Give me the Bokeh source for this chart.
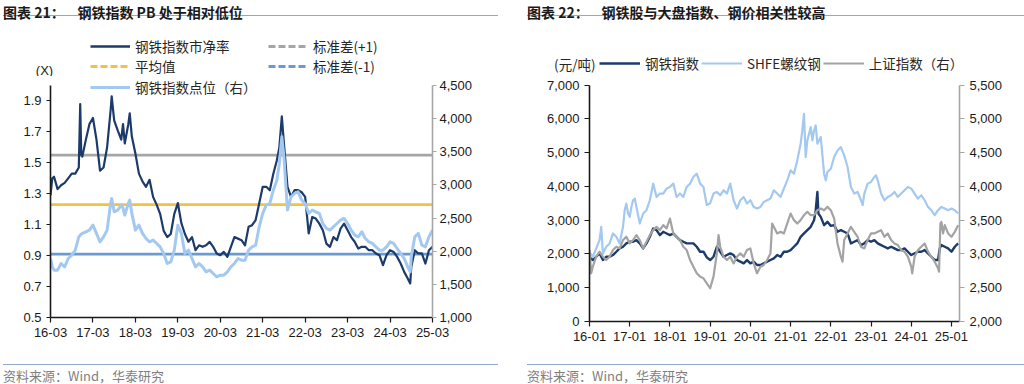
from bokeh.plotting import figure
from bokeh.models import (Range1d, LinearAxis, FixedTicker, NumeralTickFormatter, Span,
                          Legend, LegendItem, Label, Div)
from bokeh.layouts import row, column
from bokeh.embed import file_html
from bokeh.resources import INLINE

CJK = "Noto Sans CJK SC"
NUM = "Liberation Sans"
NAN = float("nan")

# ---------------- left chart data (months since 2016-03) ----------------
pb_month = [0, 0.5, 1, 2, 3, 4, 5, 6, 7, 8, 8.4, 8.7,
            9, 10, 11, 12, 13, 14, 15, 16, 17, 17.3,
            18, 19, 20, 20.5, 21, 22, 22.4, 23, 24, 25,
            26, 27, 28, 29, 30, 31, 32, 33, 34, 35,
            36, 37, 38, 39, 40, 41, 42, 43, 44, 45,
            46, 47, 48, 49, 50, 51, 52, 53, 54, 55,
            56, 57, 58, 59, 60, 61, 62, 63, 64, 64.7,
            65.4, 66, 67, 68, 69, 70, 71, 72, 73, 74,
            75, 76, 77, 78, 79, 80, 81, 82, 83, 84,
            85, 86, 87, 88, 89, 90, 91, 92, 93, 94,
            95, 96, 97, 98, 99, 100, 101, 101.7, 102, 103,
            104, 105, 106, 107, 108]
pb_value = [1.29, 1.40, 1.41, 1.33, 1.355, 1.37, 1.40, 1.43, 1.43, 1.47, 1.88, 1.55,
            1.54, 1.65, 1.75, 1.79, 1.65, 1.45, 1.47, 1.60, 1.84, 1.93,
            1.775, 1.71, 1.65, 1.75, 1.625, 1.75, 1.82, 1.67, 1.56, 1.43,
            1.38, 1.345, 1.39, 1.28, 1.23, 1.17, 1.06, 1.02, 1.04, 1.17,
            1.24, 1.11, 1.04, 0.99, 1.02, 0.935, 0.967, 0.957, 0.967, 0.989,
            0.957, 0.914, 0.903, 0.924, 0.892, 0.957, 1.02, 1.01, 1.0, 0.967,
            1.086, 1.097, 1.13, 1.237, 1.345, 1.345, 1.323, 1.43, 1.517, 1.60,
            1.80, 1.625, 1.345, 1.28, 1.323, 1.323, 1.31, 1.28, 1.043, 1.15,
            1.14, 1.107, 1.064, 0.978, 0.957, 1.02, 1.0, 1.075, 1.107, 1.064,
            1.02, 0.99, 0.946, 0.957, 0.957, 0.935, 0.935, 0.914, 0.903, 0.838,
            0.903, 0.935, 0.924, 0.892, 0.849, 0.795, 0.752, 0.72, 0.827, 0.935,
            0.914, 0.914, 0.849, 0.935, 0.957]
steel_index_pts = [1890, 1765, 1714, 1714, 1815, 1765, 1890, 1940, 2016, 2217, 2240, 2260,
                   2268, 2293, 2318, 2393, 2268, 2142, 2217, 2318, 2720, 2796,
                   2595, 2620, 2695, 2650, 2544, 2720, 2770, 2570, 2318, 2393,
                   2268, 2192, 2142, 2167, 2117, 2066, 1966, 1815, 1840, 2016,
                   2393, 2268, 1966, 2016, 1890, 1765, 1815, 1765, 1689, 1714,
                   1664, 1614, 1639, 1639, 1689, 1765, 1815, 1890, 1865, 1865,
                   2016, 2066, 2091, 2368, 2570, 2695, 2720, 2921, 3072, 3324,
                   3726, 3424, 2620, 2821, 2871, 2896, 2771, 2720, 2570, 2620,
                   2595, 2570, 2418, 2343, 2318, 2368, 2418, 2469, 2494, 2418,
                   2318, 2242, 2217, 2293, 2192, 2142, 2117, 2066, 2016, 2016,
                   2066, 2142, 2117, 2041, 1966, 1890, 1765, 1689, 1915, 2217,
                   2268, 2091, 2066, 2217, 2318]
pb_mean = 1.23
pb_plus1 = 1.55
pb_minus1 = 0.91

left_tick_months = [0, 12, 24, 36, 48, 60, 72, 84, 96, 108]
left_tick_labels = ["16-03", "17-03", "18-03", "19-03", "20-03",
                    "21-03", "22-03", "23-03", "24-03", "25-03"]
left_y_ticks = [0.5, 0.7, 0.9, 1.1, 1.3, 1.5, 1.7, 1.9]
left_y_bounds = (0.5, 2.0)
left_y2_ticks = [1000, 1500, 2000, 2500, 3000, 3500, 4000, 4500]
left_y2_bounds = (1000, 4500)

# ---------------- right chart data (months since 2016-01) ----------------
steel_month = sorted(set(list(range(0, 68)) + [67.5, 68, 68.3] + list(range(69, 105)) + [104.5] + list(range(105, 111))))
steel_value = [1900, 1819, 1917, 2016, 1819, 1917, 1917, 1967, 2065, 2163,
               2212, 2311, 2360, 2360, 2409, 2311, 2163, 2311, 2507, 2753,
               2704, 2557, 2655, 2606, 2557, 2606, 2507, 2409, 2360, 2311,
               2311, 2311, 2212, 2065, 2065, 1900, 1819, 1917, 2212, 2065,
               1917, 1967, 2016, 1967, 1819, 1770, 1721, 1819, 1721, 1770,
               1672, 1672, 1721, 1770, 1819, 1868, 1967, 1917, 2065, 2065,
               2114, 2212, 2311, 2507, 2606, 2704, 2802, 2999, 3294, 3835,
               3196, 3097, 2852, 2950, 2830, 2852, 2655, 2704, 2655, 2606,
               2311, 2360, 2409, 2262, 2311, 2409, 2360, 2409, 2311, 2262,
               2212, 2163, 2212, 2163, 2114, 2114, 2163, 2065, 1967, 2016,
               2065, 2065, 2114, 2016, 1917, 1819, 1819, 2163, 2262, 2212,
               2163, 2065, 2212, 2311]

rebar_month = [0, 1, 2, 3, 3.5, 4, 5, 6, 7, 8, 9, 10, 10.5, 11, 11.5, 12, 12.5, 13, 13.5,
               14, 15, 16, 17, 18, 19, 20, 21, 22, 23, 24, 25, 26, 27, 28, 29, 30,
               31, 32, 33, 34, 35, 36, 37, 38, 39, 40, 41, 42, 43, 44, 45, 46, 47,
               48, 49, 50, 51, 52, 53, 54, 55, 56, 57, 58, 59, 60, 61, 62, 63, 63.5,
               64, 64.5, 65, 66, 66.5, 67, 67.5, 68, 69, 70, 70.5, 71, 72, 73, 74,
               75, 76, 77, 78, 79, 80, 81, 81.5, 82, 83, 84, 85, 85.5, 86, 87, 88,
               89, 90, 91, 92, 93, 94, 95, 96, 97, 98, 99, 100, 101, 102, 103, 104,
               105, 106, 107, 108, 109, 110]
rebar_value = [2050, 1917, 2163, 2409, 2802, 2016, 2212, 2311, 2606, 2507, 2311, 2802, 3294, 3490, 3196, 3097, 3392, 3589, 3638,
               3392, 2901, 3196, 3294, 3589, 4081, 3687, 3786, 3786, 3933, 3982, 4081, 3687, 3786, 3687, 3982, 4081,
               4277, 4376, 4081, 3982, 3450, 3500, 3786, 3835, 3736, 3884, 3786, 4081, 3589, 3343, 3589, 3687, 3490,
               3589, 3392, 3343, 3392, 3540, 3589, 3638, 3884, 3786, 3687, 3933, 4179, 4474, 4376, 4769, 5261, 5654,
               6146, 4867, 5359, 5752, 5359, 5654, 5802, 5261, 5458, 4376, 4179, 4425, 4523, 4867, 5064,
               5162, 4916, 4572, 3982, 3786, 3835, 3589, 3441, 3786, 4081, 4130, 4277, 4326, 4179, 3786, 3589,
               3687, 3736, 3835, 3687, 3786, 3884, 3982, 3933, 3786, 3638, 3736, 3589, 3392, 3294, 3147, 3294,
               3392, 3343, 3294, 3343, 3294, 3196]

sh_month = [0, 0.5] + list(range(1, 39)) + [38.5] + list(range(39, 55)) + [54.5] + list(range(55, 76)) + [75.5] + \
           list(range(76, 97)) + [96.3] + list(range(97, 105)) + [104.3, 104.7, 105, 105.5] + list(range(106, 111))
sh_value = [3057, 2713, 2811, 2959, 3033, 2959, 2910, 2959, 3057, 3106, 3082,
            3205, 3254, 3155, 3205, 3278, 3205, 3082, 3180, 3278, 3352,
            3401, 3352, 3426, 3377, 3524, 3303, 3254, 3205, 3106, 3057,
            2910, 2811, 2713, 2664, 2640, 2565, 2492, 2664, 3008, 3278,
            3106, 2959, 2910, 2959, 2860, 2959, 3008, 2959, 3057, 3082,
            2860, 2713, 2811, 2836, 2910, 3008, 3450, 3401, 3303, 3328,
            3303, 3450, 3598, 3500, 3450, 3500, 3573, 3623, 3573, 3573,
            3647, 3672, 3647, 3696, 3647, 3524, 3155, 2959, 2885, 3205,
            3303, 3401, 3328, 3254, 3106, 3082, 3205, 3303, 3303, 3328,
            3352, 3254, 3303, 3205, 3155, 3131, 3057, 3033, 2959, 2811,
            2713, 2959, 3057, 3106, 3155, 3033, 2959, 2885, 2787, 2738,
            3450, 3475, 3303, 3426, 3303, 3254, 3328, 3426]

right_tick_months = [0, 12, 24, 36, 48, 60, 72, 84, 96, 108]
right_tick_labels = ["16-01", "17-01", "18-01", "19-01", "20-01",
                     "21-01", "22-01", "23-01", "24-01", "25-01"]
right_y_ticks = [0, 1000, 2000, 3000, 4000, 5000, 6000, 7000]
right_y_bounds = (0, 7000)
right_y2_ticks = [2000, 2500, 3000, 3500, 4000, 4500, 5000, 5500]
right_y2_bounds = (2000, 5500)

NAVY = "#1C3A6A"
LIGHT = "#A3C9F0"
GRAY = "#A6A6A6"
YELLOW = "#F3C245"
MIDBLUE = "#6A9AD0"
TXT = "#1a1a1a"
LEGTXT = "#262626"

# layout geometry (pixels)
PANEL_W = 512
HEADER_H = 54
MAIN_H = 288


def style_axis(ax, color, tick_out, standoff):
    ax.axis_line_color = color
    ax.axis_line_width = 1.6
    ax.major_tick_line_color = color
    ax.major_tick_line_width = 1.2
    ax.major_tick_out = tick_out
    ax.major_tick_in = 0
    ax.minor_tick_line_color = None
    ax.major_label_text_font = NUM
    ax.major_label_text_font_size = "13px"
    ax.major_label_text_color = TXT
    ax.major_label_standoff = standoff


def title_div(text, indent, line_w):
    html = ('<div style="margin-left:%dpx;width:%dpx;padding-top:4px;height:16px;line-height:16px;'
            'border-bottom:1px solid #8FA9C6;font-family:\'Noto Sans CJK SC\';font-size:14px;'
            'font-weight:bold;color:#1a1a1a;white-space:nowrap;">%s</div>') % (indent, line_w, text)
    return Div(text=html, width=PANEL_W, height=22, margin=(0, 0, 0, 0))


def foot_div(indent, line_w):
    html = ('<div style="margin-left:%dpx;width:%dpx;padding-top:4px;height:14px;line-height:14px;'
            'border-top:1px solid #8FA9C6;font-family:\'Noto Sans CJK SC\';font-size:13px;'
            'color:#7f7f7f;white-space:nowrap;">资料来源：Wind，华泰研究</div>') % (indent, line_w)
    return Div(text=html, width=PANEL_W, height=20, margin=(0, 0, 0, 0))


def make_legend(items, loc, orientation="vertical", spacing=0, glyph_w=40):
    return Legend(items=items, location=loc, orientation=orientation, spacing=spacing,
                  padding=0, margin=0, glyph_width=glyph_w, glyph_height=20, label_height=20,
                  label_standoff=5, border_line_color=None, background_fill_alpha=0,
                  label_text_font=CJK, label_text_font_size="13.5px", label_text_color=LEGTXT)


def header_fig():
    h = figure(width=PANEL_W, height=HEADER_H, x_range=Range1d(0, PANEL_W), y_range=Range1d(0, HEADER_H),
               x_axis_type=None, y_axis_type=None, output_backend="svg", toolbar_location=None,
               min_border_left=0, min_border_right=0, min_border_top=0, min_border_bottom=0)
    h.frame_align = False
    h.outline_line_color = None
    h.xgrid.grid_line_color = None
    h.ygrid.grid_line_color = None
    return h


def extended_range(bounds, data_px, frame_px):
    lo, hi = bounds
    return Range1d(lo, lo + (hi - lo) * frame_px / data_px)


# ---------------- left panel ----------------
h1 = header_fig()
d_pb = h1.line([NAN], [NAN], line_color=NAVY, line_width=2.4)
d_mean = h1.line([NAN], [NAN], line_color=YELLOW, line_width=3, line_dash="7 3")
d_p1 = h1.line([NAN], [NAN], line_color=GRAY, line_width=3, line_dash="7 3")
d_m1 = h1.line([NAN], [NAN], line_color=MIDBLUE, line_width=3, line_dash="7 3")
h1.add_layout(make_legend([LegendItem(label="钢铁指数市净率", renderers=[d_pb]),
                           LegendItem(label="平均值", renderers=[d_mean])], (90, 0)), "center")
h1.add_layout(make_legend([LegendItem(label="标准差(+1)", renderers=[d_p1]),
                           LegendItem(label="标准差(-1)", renderers=[d_m1])], (268, 0)), "center")
h1.add_layout(Label(x=44, y=6.5, x_units="screen", y_units="screen", text="(X)",
                    text_align="center", text_baseline="middle", text_font=NUM,
                    text_font_size="13px", text_color=TXT))

L_BOTTOM = 47
L_FRAME = MAIN_H - L_BOTTOM
L_DATA = L_FRAME - 9
p1 = figure(width=PANEL_W, height=MAIN_H, x_range=Range1d(0, 108),
            y_range=extended_range(left_y_bounds, L_DATA, L_FRAME),
            output_backend="svg", toolbar_location=None,
            min_border_left=50, min_border_right=80, min_border_top=0, min_border_bottom=L_BOTTOM)
p1.extra_y_ranges = {"idx": extended_range(left_y2_bounds, L_DATA, L_FRAME)}
p1.outline_line_color = None
p1.xgrid.grid_line_color = None
p1.ygrid.grid_line_color = None

for loc, col in [(pb_plus1, GRAY), (pb_mean, YELLOW), (pb_minus1, MIDBLUE)]:
    p1.add_layout(Span(location=loc, dimension="width", line_color=col, line_width=2.6, level="underlay"))

r_pb = p1.line(pb_month, pb_value, line_color=NAVY, line_width=2.2, line_join="round")
r_idx = p1.line(pb_month, steel_index_pts, line_color=LIGHT, line_width=3, line_join="round",
                y_range_name="idx")

ax = p1.xaxis[0]
ax.ticker = FixedTicker(ticks=left_tick_months)
ax.major_label_overrides = {m: l for m, l in zip(left_tick_months, left_tick_labels)}
style_axis(ax, "#1a1a1a", 5, 5)
ay = p1.yaxis[0]
ay.ticker = FixedTicker(ticks=left_y_ticks)
ay.formatter = NumeralTickFormatter(format="0.0")
ay.bounds = left_y_bounds
style_axis(ay, "#1a1a1a", 4, 5)
ay2 = LinearAxis(y_range_name="idx", ticker=FixedTicker(ticks=left_y2_ticks),
                 formatter=NumeralTickFormatter(format="0,0"), bounds=left_y2_bounds)
style_axis(ay2, GRAY, 4, 3)
p1.add_layout(ay2, "right")
# third legend row sits just inside the top of the plotting frame (row centre 11px below top)
p1.add_layout(make_legend([LegendItem(label="钢铁指数点位（右）", renderers=[r_idx])],
                          (40, L_FRAME - 21)), "center")

# ---------------- right panel ----------------
h2 = header_fig()
d_steel = h2.line([NAN], [NAN], line_color=NAVY, line_width=2.4)
d_rebar = h2.line([NAN], [NAN], line_color=LIGHT, line_width=2.2)
d_sh = h2.line([NAN], [NAN], line_color="#A3A3A3", line_width=2.2)
h2.add_layout(make_legend([LegendItem(label="钢铁指数", renderers=[d_steel]),
                           LegendItem(label="SHFE螺纹钢", renderers=[d_rebar]),
                           LegendItem(label="上证指数（右）", renderers=[d_sh])], (87, 3),
                          orientation="horizontal", spacing=2, glyph_w=41), "center")
h2.add_layout(Label(x=83, y=13, x_units="screen", y_units="screen", text="(元/吨)",
                    text_align="right", text_baseline="middle", text_font=CJK,
                    text_font_size="13.5px", text_color=LEGTXT))

R_BOTTOM = 43
R_FRAME = MAIN_H - R_BOTTOM
R_DATA = R_FRAME - 8.5
p2 = figure(width=PANEL_W, height=MAIN_H, x_range=Range1d(0, 110.4),
            y_range=extended_range(right_y_bounds, R_DATA, R_FRAME),
            output_backend="svg", toolbar_location=None,
            min_border_left=77, min_border_right=65, min_border_top=0, min_border_bottom=R_BOTTOM)
p2.extra_y_ranges = {"sh": extended_range(right_y2_bounds, R_DATA, R_FRAME)}
p2.outline_line_color = None
p2.xgrid.grid_line_color = None
p2.ygrid.grid_line_color = None

r_steel = p2.line(steel_month, steel_value, line_color=NAVY, line_width=2.4, line_join="round")
r_rebar = p2.line(rebar_month, rebar_value, line_color=LIGHT, line_width=2.2, line_join="round")
r_sh = p2.line(sh_month, sh_value, line_color="#A3A3A3", line_width=2.2, line_join="round",
               y_range_name="sh")

bx = p2.xaxis[0]
bx.ticker = FixedTicker(ticks=right_tick_months)
bx.major_label_overrides = {m: l for m, l in zip(right_tick_months, right_tick_labels)}
style_axis(bx, "#1a1a1a", 5, 5)
by = p2.yaxis[0]
by.ticker = FixedTicker(ticks=right_y_ticks)
by.formatter = NumeralTickFormatter(format="0,0")
by.bounds = right_y_bounds
style_axis(by, "#1a1a1a", 5, 5)
by2 = LinearAxis(y_range_name="sh", ticker=FixedTicker(ticks=right_y2_ticks),
                 formatter=NumeralTickFormatter(format="0,0"), bounds=right_y2_bounds)
style_axis(by2, GRAY, 5, 5)
p2.add_layout(by2, "right")

t1 = title_div("图表 21：&nbsp;&nbsp;&nbsp;&nbsp;钢铁指数 PB 处于相对低位", 3, 495)
t2 = title_div("图表 22：&nbsp;&nbsp;&nbsp;&nbsp;钢铁股与大盘指数、钢价相关性较高", 15, 497)
f1 = foot_div(3, 495)
f2 = foot_div(15, 497)

layout = row(column(t1, h1, p1, f1, spacing=0), column(t2, h2, p2, f2, spacing=0), spacing=0)
open("out.html", "w").write(file_html(layout, INLINE))
